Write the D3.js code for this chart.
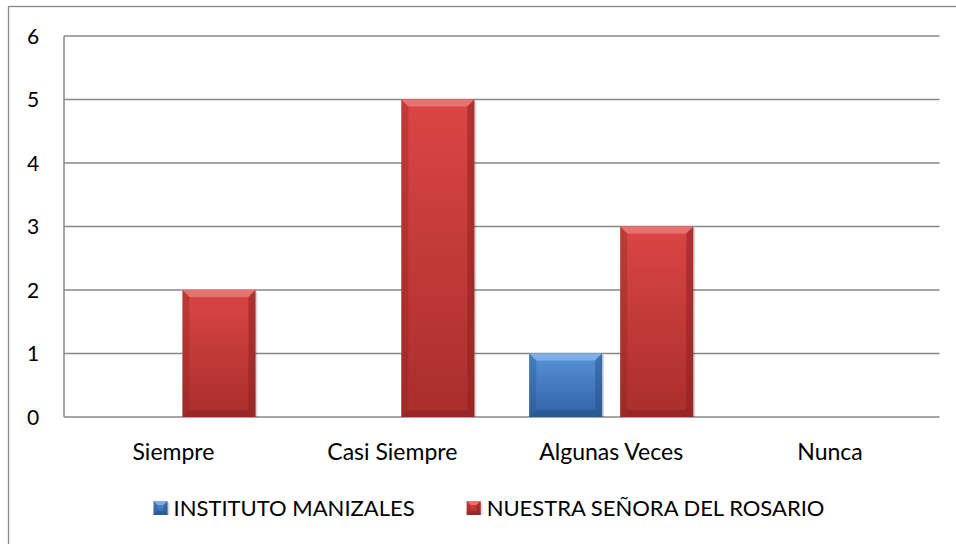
<!DOCTYPE html>
<html>
<head>
<meta charset="utf-8">
<script src="https://cdn.jsdelivr.net/npm/d3@7"></script>
<style>
  body { margin: 0; background: #fff; }
  svg { display: block; font-family: Lato, "Open Sans", sans-serif; }
</style>
</head>
<body>
<svg id="chart" width="956" height="544"></svg>
<script>
const categories = ['Siempre', 'Casi Siempre', 'Algunas Veces', 'Nunca'];
const seriesNames = ['INSTITUTO MANIZALES', 'NUESTRA SEÑORA DEL ROSARIO'];
const institutoValues = [0, 0, 1, 0];
const rosarioValues = [2, 5, 3, 0];
const yTicks = [0, 1, 2, 3, 4, 5, 6];

const palette = [
    { top: '#5792d8', bottom: '#2f63a5', light: '#8ab5ea', dark: '#244f86' },
    { top: '#da4644', bottom: '#a92e2c', light: '#ec7d7a', dark: '#85201f' }
];

const margin = { left: 64, top: 36, right: 16.5, bottom: 127 };
const width = 956, height = 544;

const svg = d3.select('#chart');

// outer frame
svg.append('rect')
    .attr('x', 8.5).attr('y', 6.5)
    .attr('width', width).attr('height', height)
    .attr('fill', 'none').attr('stroke', '#878787').attr('stroke-width', 1.3);

const x0 = d3.scaleBand()
    .domain(categories)
    .range([margin.left, width - margin.right])
    .padding(0);

const x1 = d3.scaleBand()
    .domain(d3.range(seriesNames.length))
    .range([0, x0.bandwidth()])
    .paddingInner(0.198)
    .paddingOuter(0.301);

const y = d3.scaleLinear()
    .domain([0, 6])
    .range([height - margin.bottom, margin.top]);

// gridlines
svg.append('g')
    .selectAll('line')
    .data(yTicks)
    .join('line')
    .attr('x1', margin.left).attr('x2', width - margin.right)
    .attr('y1', d => y(d)).attr('y2', d => y(d))
    .attr('stroke', '#878787').attr('stroke-width', 1.5);

svg.append('line')
    .attr('x1', margin.left).attr('x2', margin.left)
    .attr('y1', y(6)).attr('y2', y(0))
    .attr('stroke', '#878787').attr('stroke-width', 1.5);

// y tick labels
svg.append('g')
    .selectAll('text')
    .data(yTicks)
    .join('text')
    .attr('x', 33).attr('y', d => y(d))
    .attr('dy', '0.36em')
    .attr('text-anchor', 'middle')
    .attr('font-size', 21)
    .attr('fill', '#000')
    .text(d => d);

// x labels
svg.append('g')
    .selectAll('text')
    .data(categories)
    .join('text')
    .attr('x', d => x0(d) + x0.bandwidth() / 2)
    .attr('y', 452).attr('dy', '0.36em')
    .attr('text-anchor', 'middle')
    .attr('font-size', 23)
    .text(d => d);

// gradients
const defs = svg.append('defs');
palette.forEach((c, i) => {
    const g = defs.append('linearGradient')
        .attr('id', 'grad' + i)
        .attr('x1', 0).attr('y1', 0).attr('x2', 0).attr('y2', 1);
    g.append('stop').attr('offset', '0%').attr('stop-color', c.top);
    g.append('stop').attr('offset', '100%').attr('stop-color', c.bottom);
});

const drawBevelBar = (g, x, yTop, w, h, c, i, bev) => {
    if (h <= 0) return;
    const b = Math.min(bev, h / 2, w / 2);
    // shadow
    g.append('rect')
        .attr('x', x + 2).attr('y', yTop + 2)
        .attr('width', w).attr('height', h - 2)
        .attr('fill', 'rgba(0,0,0,0.15)');
    g.append('rect')
        .attr('x', x).attr('y', yTop)
        .attr('width', w).attr('height', h)
        .attr('fill', `url(#grad${i})`);
    const x2 = x + w, y2 = yTop + h;
    g.append('path')
        .attr('d', `M${x},${yTop}L${x2},${yTop}L${x2 - b},${yTop + b}L${x + b},${yTop + b}Z`)
        .attr('fill', c.light).attr('opacity', 0.8);
    g.append('path')
        .attr('d', `M${x},${yTop}L${x + b},${yTop + b}L${x + b},${y2 - b}L${x},${y2}Z`)
        .attr('fill', c.dark).attr('opacity', 0.3);
    g.append('path')
        .attr('d', `M${x2},${yTop}L${x2 - b},${yTop + b}L${x2 - b},${y2 - b}L${x2},${y2}Z`)
        .attr('fill', c.dark).attr('opacity', 0.5);
    g.append('path')
        .attr('d', `M${x},${y2}L${x + b},${y2 - b}L${x2 - b},${y2 - b}L${x2},${y2}Z`)
        .attr('fill', c.dark).attr('opacity', 0.5);
};

const seriesValues = [institutoValues, rosarioValues];
const bars = svg.append('g');
seriesValues.forEach((vals, i) => {
    vals.forEach((v, k) => {
        const bx = x0(categories[k]) + x1(i);
        drawBevelBar(bars, bx, y(v), x1.bandwidth(), y(0) - y(v), palette[i], i, 7);
    });
});

// legend, centred under the chart
const legend = svg.append('g');
const markerSize = 14, markerGap = 6, itemGap = 52;
const labels = seriesNames.map(name => legend.append('text')
    .attr('y', 508).attr('dy', '0.36em')
    .attr('font-size', 22)
    .text(name));
const widths = labels.map(t => t.node().getComputedTextLength());
const total = d3.sum(widths) + seriesNames.length * (markerSize + markerGap) + itemGap;
let lx = 489 - total / 2;
labels.forEach((t, i) => {
    drawBevelBar(legend, lx, 508 - markerSize / 2, markerSize, markerSize, palette[i], i, 4);
    t.attr('x', lx + markerSize + markerGap);
    lx += markerSize + markerGap + widths[i] + itemGap;
});
</script>
</body>
</html>
